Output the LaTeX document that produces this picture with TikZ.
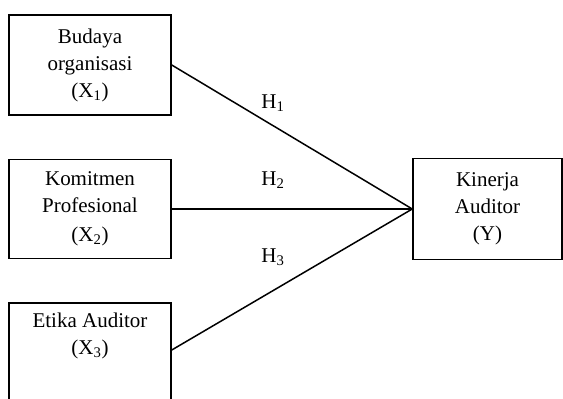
\documentclass[tikz,border=0pt]{standalone}
\usepackage{fontspec}
\setmainfont{Liberation Serif}
\usetikzlibrary{positioning}
\tikzset{
	varbox/.style={draw, line width=1.5pt, inner sep=0pt, minimum width=162, minimum height=100, align=center, font=\fontsize{21}{27}\selectfont},
	hyplabel/.style={font=\fontsize{21}{24}\selectfont},
	path/.style={line width=1.5pt}
}
\begin{document}
\begin{tikzpicture}[x=1pt, y=-1pt]
		\useasboundingbox (0, 0) rectangle (563, 399);
		
		% variabel independen
		\node[varbox] (budaya) at (90, 65) {Budaya\\organisasi\\(X\textsubscript{1})};
		\node[varbox, minimum height=99] (komitmen) at (90, 209) {Komitmen\\Profesional\\[2pt](X\textsubscript{2})};
		\node[varbox, minimum height=102] (etika) at (90, 354) {Etika Auditor\\(X\textsubscript{3})\\[14pt]};
		
		% variabel dependen
		\node[varbox, minimum width=149, minimum height=101] (kinerja) at (487.5, 209) {Kinerja\\Auditor\\(Y)};
		
		\draw[path] (budaya.east) -- (kinerja.west);
		\draw[path] (komitmen.east) -- (kinerja.west);
		\draw[path] ([yshift=4pt]etika.east) -- (kinerja.west);
		
		\node[hyplabel] (h1) at (273, 103) {H\textsubscript{1}};
		\node[hyplabel] (h2) at (273, 180) {H\textsubscript{2}};
		\node[hyplabel] (h3) at (273, 257) {H\textsubscript{3}};
	\end{tikzpicture}
\end{document}
